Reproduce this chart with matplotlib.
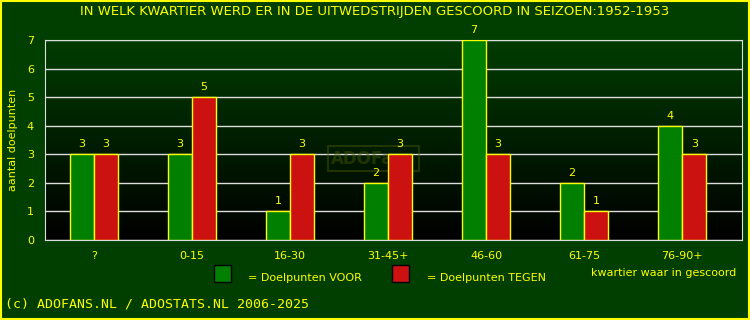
import numpy as np
import matplotlib.pyplot as plt
from matplotlib.patches import Rectangle

categories = ['?', '0-15', '16-30', '31-45+', '46-60', '61-75', '76-90+']
voor = [3, 3, 1, 2, 7, 2, 4]
tegen = [3, 5, 3, 3, 3, 1, 3]

YEL = '#ffff00'
BG = '#003f00'
GREEN = '#007f00'
RED = '#cc1111'


def main():
    fig = plt.figure(figsize=(7.5, 3.2), dpi=100, facecolor=BG)
    ax = fig.add_axes([45 / 750, 80 / 320, 697 / 750, 200 / 320])
    ax.set_facecolor('black')

    # verloop van donkergroen naar zwart
    grad = np.linspace(0, 1, 256).reshape(-1, 1)
    cmap = plt.matplotlib.colors.LinearSegmentedColormap.from_list('g', ['#000000', '#003c00'])
    ax.imshow(grad, aspect='auto', cmap=cmap, origin='lower',
              extent=[-0.5, 6.61, 0, 7], zorder=0)

    x = np.arange(len(categories))
    w = 0.245
    ax.bar(x - w / 2, voor, w, color=GREEN, edgecolor=YEL, linewidth=1, zorder=3)
    ax.bar(x + w / 2, tegen, w, color=RED, edgecolor=YEL, linewidth=1, zorder=3)
    for i in range(len(categories)):
        ax.text(x[i] - w / 2, voor[i] + 0.18, str(voor[i]), color=YEL, ha='center', va='bottom', fontsize=8, zorder=4)
        ax.text(x[i] + w / 2, tegen[i] + 0.18, str(tegen[i]), color=YEL, ha='center', va='bottom', fontsize=8, zorder=4)

    ax.set_xlim(-0.5, 6.61)
    ax.set_ylim(0, 7)
    ax.set_yticks(range(8))
    ax.set_xticks(x)
    ax.set_xticklabels(categories)
    ax.tick_params(colors=YEL, labelsize=8, length=0, pad=8)
    ax.yaxis.grid(True, color='#dddddd', linewidth=1, zorder=1)
    ax.set_axisbelow(True)
    for s in ax.spines.values():
        s.set_color('#dddddd')

    # watermerk
    ax.text(2.85, 2.85, 'ADOFans', color='#4a5a00', alpha=0.45, fontsize=12, fontweight='bold',
            ha='center', va='center', zorder=2,
            bbox=dict(boxstyle='square,pad=0.2', fc='none', ec='#4a5a00', lw=1.5, alpha=0.45))

    fig.text(13 / 750, 1 - 140 / 320, 'aantal doelpunten', rotation=90, color=YEL,
             fontsize=8, ha='center', va='center')
    fig.text(0.5, 1 - 12 / 320, 'IN WELK KWARTIER WERD ER IN DE UITWEDSTRIJDEN GESCOORD IN SEIZOEN:1952-1953',
             color=YEL, fontsize=9.5, ha='center', va='center')

    # legenda
    fig.patches.append(Rectangle((214 / 750, 1 - 282 / 320), 17 / 750, 17 / 320, transform=fig.transFigure,
                                 fc=GREEN, ec='black', lw=1))
    fig.text(248 / 750, 1 - 278 / 320, '= Doelpunten VOOR', color=YEL, fontsize=8, va='center')
    fig.patches.append(Rectangle((392 / 750, 1 - 282 / 320), 17 / 750, 17 / 320, transform=fig.transFigure,
                                 fc=RED, ec='black', lw=1))
    fig.text(427 / 750, 1 - 278 / 320, '= Doelpunten TEGEN', color=YEL, fontsize=8, va='center')
    fig.text(591 / 750, 1 - 273 / 320, 'kwartier waar in gescoord', color=YEL, fontsize=8, va='center')

    fig.text(5 / 750, 1 - 304 / 320, '(c) ADOFANS.NL / ADOSTATS.NL 2006-2025', color=YEL,
             fontsize=9.5, family='DejaVu Sans Mono', va='center')

    fig.patches.append(Rectangle((0.001, 0.002), 0.997, 0.995, transform=fig.transFigure,
                                 fc='none', ec=YEL, lw=1.5))

    fig.savefig('out.png', dpi=100, facecolor=BG)


if __name__ == '__main__':
    main()
